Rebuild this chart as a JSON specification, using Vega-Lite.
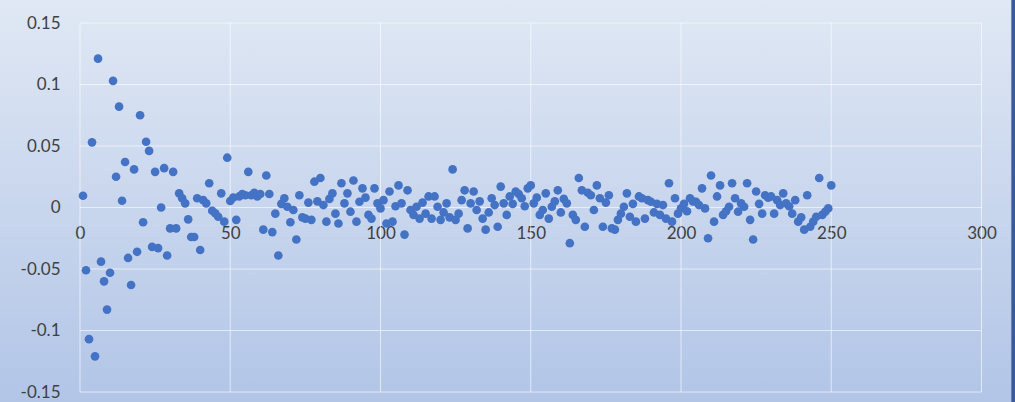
{
  "$schema": "https://vega.github.io/schema/vega-lite/v6.json",
  "width": 1015,
  "height": 402,
  "autosize": {"type": "none"},
  "padding": 0,
  "background": "#c9d6ed",
  "config": {
    "view": {
      "stroke": null,
      "fill": {"gradient": "linear", "x1": 0, "y1": 0, "x2": 0, "y2": 1,
        "stops": [{"offset": 0, "color": "#e0e8f4"}, {"offset": 1, "color": "#b2c5e7"}]}
    },
    "axis": {"labelFont": "Lato", "labelFontSize": 17, "labelColor": "#404040", "grid": false, "domain": false, "ticks": false, "tickSize": 0, "title": null, "labelFlush": false, "labelOverlap": false, "labelBound": false}
  },
  "datasets": {
    "vgrid": [{"gx": 0}, {"gx": 50}, {"gx": 100}, {"gx": 150}, {"gx": 200}, {"gx": 250}, {"gx": 300}],
    "hgrid": [{"gy": -0.15}, {"gy": -0.1}, {"gy": -0.05}, {"gy": 0}, {"gy": 0.05}, {"gy": 0.1}, {"gy": 0.15}],
    "points": [
      {"x":1,"y":0.0096},{"x":2,"y":-0.051},{"x":3,"y":-0.107},{"x":4,"y":0.053},{"x":5,"y":-0.121},{"x":6,"y":0.121},{"x":7,"y":-0.044},{"x":8,"y":-0.06},{"x":9,"y":-0.083},{"x":10,"y":-0.053},
      {"x":11,"y":0.103},{"x":12,"y":0.025},{"x":13,"y":0.082},{"x":14,"y":0.0055},{"x":15,"y":0.037},{"x":16,"y":-0.041},{"x":17,"y":-0.063},{"x":18,"y":0.031},{"x":19,"y":-0.036},{"x":20,"y":0.075},
      {"x":21,"y":-0.012},{"x":22,"y":0.0535},{"x":23,"y":0.046},{"x":24,"y":-0.032},{"x":25,"y":0.029},{"x":26,"y":-0.033},{"x":27,"y":0.0},{"x":28,"y":0.032},{"x":29,"y":-0.039},{"x":30,"y":-0.017},
      {"x":31,"y":0.029},{"x":32,"y":-0.017},{"x":33,"y":0.0115},{"x":34,"y":0.0075},{"x":35,"y":0.0034},{"x":36,"y":-0.0096},{"x":37,"y":-0.024},{"x":38,"y":-0.024},{"x":39,"y":0.0075},{"x":40,"y":-0.0345},
      {"x":41,"y":0.006},{"x":42,"y":0.0034},{"x":43,"y":0.0197},{"x":44,"y":-0.0026},{"x":45,"y":-0.0047},{"x":46,"y":-0.0075},{"x":47,"y":0.0115},{"x":48,"y":-0.0115},{"x":49,"y":0.0405},{"x":50,"y":0.0053},
      {"x":51,"y":0.008},{"x":52,"y":-0.01},{"x":53,"y":0.009},{"x":54,"y":0.011},{"x":55,"y":0.01},{"x":56,"y":0.029},{"x":57,"y":0.01},{"x":58,"y":0.012},{"x":59,"y":0.009},{"x":60,"y":0.011},
      {"x":61,"y":-0.018},{"x":62,"y":0.026},{"x":63,"y":0.011},{"x":64,"y":-0.02},{"x":65,"y":-0.005},{"x":66,"y":-0.039},{"x":67,"y":0.003},{"x":68,"y":0.0075},{"x":69,"y":0.0006},{"x":70,"y":-0.012},
      {"x":71,"y":-0.002},{"x":72,"y":-0.026},{"x":73,"y":0.01},{"x":74,"y":-0.008},{"x":75,"y":-0.009},{"x":76,"y":0.004},{"x":77,"y":-0.01},{"x":78,"y":0.021},{"x":79,"y":0.005},{"x":80,"y":0.024},
      {"x":81,"y":0.002},{"x":82,"y":-0.0115},{"x":83,"y":0.007},{"x":84,"y":0.0115},{"x":85,"y":-0.005},{"x":86,"y":-0.013},{"x":87,"y":0.0197},{"x":88,"y":0.0034},{"x":89,"y":0.0115},{"x":90,"y":-0.0034},
      {"x":91,"y":0.022},{"x":92,"y":-0.0115},{"x":93,"y":0.0047},{"x":94,"y":0.0156},{"x":95,"y":0.008},{"x":96,"y":-0.006},{"x":97,"y":-0.009},{"x":98,"y":0.0156},{"x":99,"y":0.0034},{"x":100,"y":-0.0007},
      {"x":101,"y":0.006},{"x":102,"y":-0.013},{"x":103,"y":0.013},{"x":104,"y":-0.0115},{"x":105,"y":0.001},{"x":106,"y":0.018},{"x":107,"y":0.0034},{"x":108,"y":-0.022},{"x":109,"y":0.014},{"x":110,"y":-0.002},
      {"x":111,"y":-0.006},{"x":112,"y":0.0006},{"x":113,"y":-0.009},{"x":114,"y":0.004},{"x":115,"y":-0.005},{"x":116,"y":0.009},{"x":117,"y":-0.009},{"x":118,"y":0.009},{"x":119,"y":0.0006},{"x":120,"y":-0.01},
      {"x":121,"y":-0.004},{"x":122,"y":0.0034},{"x":123,"y":-0.008},{"x":124,"y":0.031},{"x":125,"y":-0.01},{"x":126,"y":-0.005},{"x":127,"y":0.006},{"x":128,"y":0.014},{"x":129,"y":-0.017},{"x":130,"y":0.0034},
      {"x":131,"y":0.013},{"x":132,"y":-0.002},{"x":133,"y":0.005},{"x":134,"y":-0.009},{"x":135,"y":-0.018},{"x":136,"y":-0.004},{"x":137,"y":0.0075},{"x":138,"y":0.002},{"x":139,"y":-0.0156},{"x":140,"y":0.017},
      {"x":141,"y":0.0034},{"x":142,"y":-0.006},{"x":143,"y":0.009},{"x":144,"y":0.003},{"x":145,"y":0.013},{"x":146,"y":0.011},{"x":147,"y":0.0075},{"x":148,"y":0.001},{"x":149,"y":0.0156},{"x":150,"y":0.018},
      {"x":151,"y":0.0034},{"x":152,"y":0.008},{"x":153,"y":-0.006},{"x":154,"y":-0.002},{"x":155,"y":0.0115},{"x":156,"y":-0.009},{"x":157,"y":0.0006},{"x":158,"y":0.005},{"x":159,"y":0.014},{"x":160,"y":-0.004},
      {"x":161,"y":0.007},{"x":162,"y":0.0034},{"x":163,"y":-0.029},{"x":164,"y":-0.006},{"x":165,"y":-0.01},{"x":166,"y":0.024},{"x":167,"y":0.014},{"x":168,"y":-0.0156},{"x":169,"y":0.012},{"x":170,"y":0.01},
      {"x":171,"y":-0.002},{"x":172,"y":0.018},{"x":173,"y":0.0075},{"x":174,"y":-0.0156},{"x":175,"y":0.004},{"x":176,"y":0.01},{"x":177,"y":-0.017},{"x":178,"y":-0.018},{"x":179,"y":-0.01},{"x":180,"y":-0.005},
      {"x":181,"y":0.0006},{"x":182,"y":0.0115},{"x":183,"y":-0.0075},{"x":184,"y":0.003},{"x":185,"y":-0.0115},{"x":186,"y":0.009},{"x":187,"y":0.0075},{"x":188,"y":-0.009},{"x":189,"y":0.006},{"x":190,"y":0.0047},
      {"x":191,"y":-0.004},{"x":192,"y":0.003},{"x":193,"y":-0.006},{"x":194,"y":0.002},{"x":195,"y":-0.009},{"x":196,"y":0.0197},{"x":197,"y":-0.0115},{"x":198,"y":0.0075},{"x":199,"y":-0.005},{"x":200,"y":-0.0007},
      {"x":201,"y":0.003},{"x":202,"y":-0.003},{"x":203,"y":0.0075},{"x":204,"y":0.005},{"x":205,"y":0.0047},{"x":206,"y":0.002},{"x":207,"y":0.0156},{"x":208,"y":-0.0007},{"x":209,"y":-0.025},{"x":210,"y":0.026},
      {"x":211,"y":-0.0115},{"x":212,"y":0.009},{"x":213,"y":0.018},{"x":214,"y":-0.006},{"x":215,"y":-0.003},{"x":216,"y":0.0006},{"x":217,"y":0.0197},{"x":218,"y":0.0075},{"x":219,"y":-0.0034},{"x":220,"y":0.0034},
      {"x":221,"y":0.0006},{"x":222,"y":0.0197},{"x":223,"y":-0.01},{"x":224,"y":-0.026},{"x":225,"y":0.013},{"x":226,"y":0.003},{"x":227,"y":-0.005},{"x":228,"y":0.01},{"x":229,"y":0.008},{"x":230,"y":0.009},
      {"x":231,"y":-0.005},{"x":232,"y":0.006},{"x":233,"y":0.002},{"x":234,"y":0.0115},{"x":235,"y":0.0034},{"x":236,"y":0.001},{"x":237,"y":-0.005},{"x":238,"y":0.006},{"x":239,"y":-0.0115},{"x":240,"y":-0.008},
      {"x":241,"y":-0.018},{"x":242,"y":0.01},{"x":243,"y":-0.0156},{"x":244,"y":-0.0115},{"x":245,"y":-0.0075},{"x":246,"y":0.024},{"x":247,"y":-0.006},{"x":248,"y":-0.0034},{"x":249,"y":-0.0007},{"x":250,"y":0.018}
    ]
  },
  "layer": [
    {
      "data": {"name": "vgrid"},
      "mark": {"type": "rule", "color": "#ffffff", "strokeWidth": 1, "opacity": 0.6},
      "encoding": {
        "x": {"field": "gx", "type": "quantitative", "scale": {"domain": [-26.62, 311.15], "nice": false, "zero": false},
          "axis": {"orient": "bottom", "offset": -194.5, "values": [0, 50, 100, 150, 200, 250, 300], "labelPadding": 18, "labelExpr": "'' + datum.value"}},
        "y": {"datum": -0.15, "type": "quantitative", "scale": {"domain": [-0.1581, 0.1687], "nice": false, "zero": false},
          "axis": {"orient": "left", "offset": -60, "values": [-0.15, -0.1, -0.05, 0, 0.05, 0.1, 0.15], "labelPadding": 0, "labelExpr": "'' + datum.value"}},
        "y2": {"datum": 0.15}
      }
    },
    {
      "data": {"name": "hgrid"},
      "mark": {"type": "rule", "color": "#ffffff", "strokeWidth": 1, "opacity": 0.6},
      "encoding": {
        "y": {"field": "gy", "type": "quantitative"},
        "x": {"datum": 0, "type": "quantitative"},
        "x2": {"datum": 300}
      }
    },
    {
      "data": {"name": "points"},
      "mark": {"type": "circle", "size": 75, "color": "#4472c4", "opacity": 1},
      "encoding": {
        "x": {"field": "x", "type": "quantitative"},
        "y": {"field": "y", "type": "quantitative"}
      }
    },
    {
      "data": {"values": [{}]},
      "mark": {"type": "rule", "color": "#3a5a9c", "strokeWidth": 4},
      "encoding": {
        "x": {"datum": 310.6, "type": "quantitative"}
      }
    }
  ]
}
